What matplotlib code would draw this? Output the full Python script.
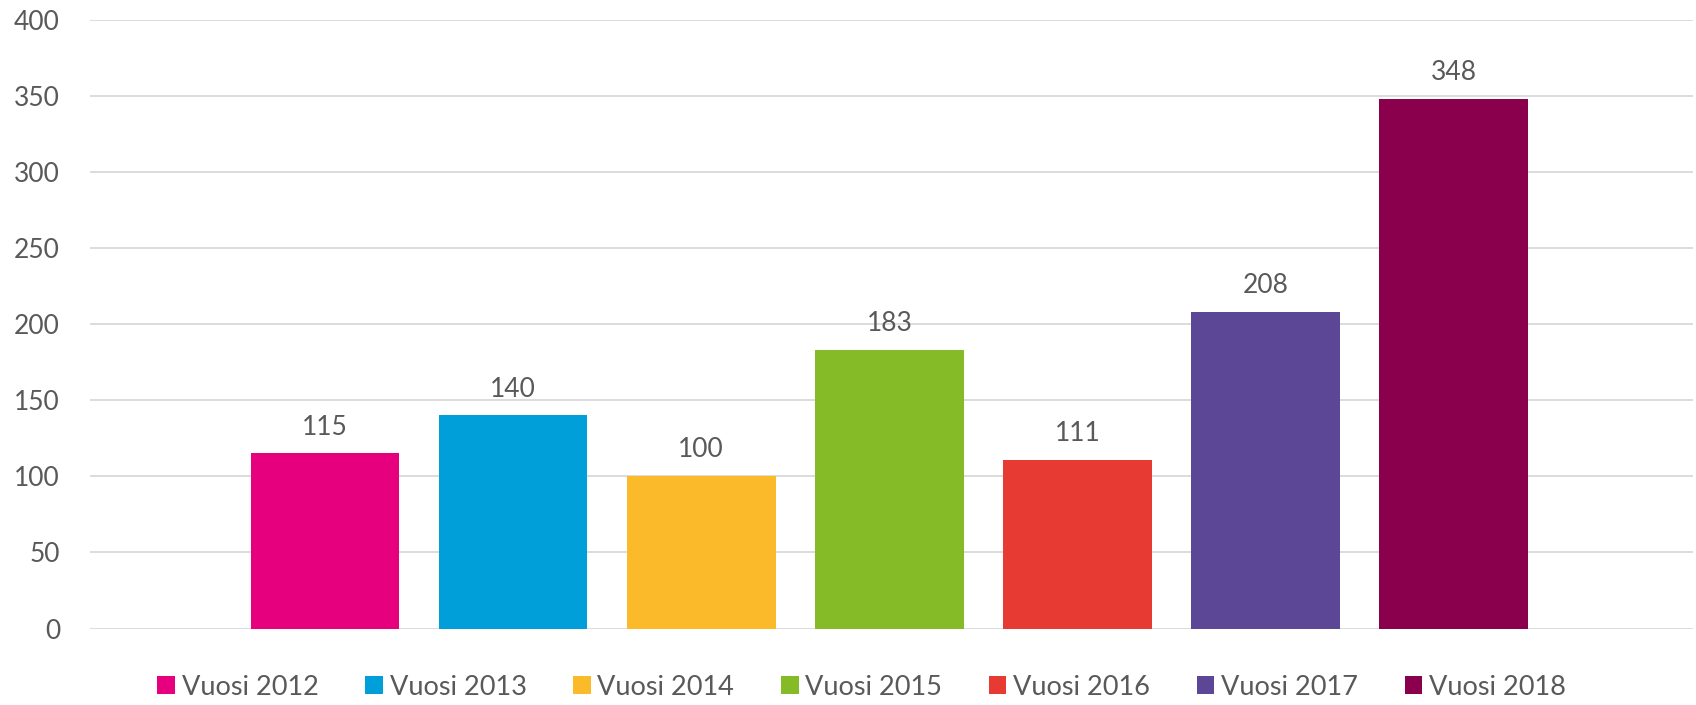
import matplotlib.pyplot as plt
from matplotlib.patches import Patch

# data
years = ['Vuosi 2012', 'Vuosi 2013', 'Vuosi 2014', 'Vuosi 2015',
         'Vuosi 2016', 'Vuosi 2017', 'Vuosi 2018']
values = [115, 140, 100, 183, 111, 208, 348]
colors = ['#E6007E', '#009FDA', '#FBBA2A', '#84BB26',
          '#E63A32', '#5C4696', '#8B004C']
yticks = [0, 50, 100, 150, 200, 250, 300, 350, 400]

text_col = '#595959'
plt.rcParams['font.family'] = ['Lato', 'DejaVu Sans']

fig = plt.figure(figsize=(16.96, 7.05), dpi=100)
ax = fig.add_axes([0.053, 0.1085, 0.945, 0.8635])

xs = list(range(len(values)))
bars = ax.bar(xs, values, width=0.79, color=colors, zorder=3)

# value labels above the bars
for b, v in zip(bars, values):
    ax.annotate(str(v), (b.get_x() + b.get_width() / 2, v),
                xytext=(0, 10), textcoords='offset points',
                ha='center', va='bottom', fontsize=19, color=text_col)

ax.set_xlim(-1.25, 7.27)
ax.set_ylim(0, 400)
ax.set_yticks(yticks)
ax.set_xticks([])
ax.grid(axis='y', color='#D9D9D9', linewidth=1.3, zorder=0)
ax.tick_params(axis='y', length=0, pad=21.5, labelsize=19, labelcolor=text_col)
for s in ax.spines.values():
    s.set_visible(False)

handles = [Patch(facecolor=c, label=y) for c, y in zip(colors, years)]
fig.legend(handles=handles, loc='center', bbox_to_anchor=(0.508, 0.025),
           ncol=7, frameon=False, fontsize=19.5, labelcolor=text_col,
           handlelength=0.65, handleheight=0.65, handletextpad=0.25,
           columnspacing=1.72)

fig.savefig('out.png', dpi=100)
